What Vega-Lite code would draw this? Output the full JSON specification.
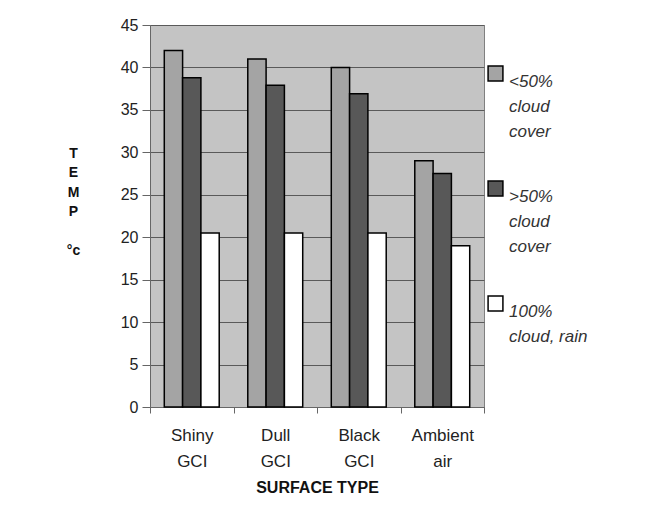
{
  "$schema": "https://vega.github.io/schema/vega-lite/v6.json",
  "width": 334,
  "height": 382,
  "autosize": {"type": "none"},
  "padding": {"left": 150, "top": 25, "right": 171, "bottom": 116},
  "background": "white",
  "config": {
    "view": {"fill": "#c4c4c4", "stroke": "#808080", "strokeWidth": 1},
    "font": "Liberation Sans Narrow, Liberation Sans, Arial, sans-serif"
  },
  "data": {
    "values": [
      {"surface": "Shiny GCI", "cover": "<50% cloud cover", "temp": 42},
      {"surface": "Shiny GCI", "cover": ">50% cloud cover", "temp": 38.8},
      {"surface": "Shiny GCI", "cover": "100% cloud, rain", "temp": 20.5},
      {"surface": "Dull GCI", "cover": "<50% cloud cover", "temp": 41},
      {"surface": "Dull GCI", "cover": ">50% cloud cover", "temp": 37.9},
      {"surface": "Dull GCI", "cover": "100% cloud, rain", "temp": 20.5},
      {"surface": "Black GCI", "cover": "<50% cloud cover", "temp": 40},
      {"surface": "Black GCI", "cover": ">50% cloud cover", "temp": 36.9},
      {"surface": "Black GCI", "cover": "100% cloud, rain", "temp": 20.5},
      {"surface": "Ambient air", "cover": "<50% cloud cover", "temp": 29},
      {"surface": "Ambient air", "cover": ">50% cloud cover", "temp": 27.5},
      {"surface": "Ambient air", "cover": "100% cloud, rain", "temp": 19}
    ]
  },
  "mark": {"type": "bar", "stroke": "black", "strokeWidth": 1.5},
  "encoding": {
    "x": {
      "field": "surface",
      "type": "nominal",
      "sort": ["Shiny GCI", "Dull GCI", "Black GCI", "Ambient air"],
      "scale": {"paddingInner": 0, "paddingOuter": 0},
      "axis": {
        "title": "SURFACE TYPE",
        "titleFontSize": 16,
        "titleFontWeight": "bold",
        "titleColor": "#111",
        "titlePadding": 10,
        "labelAngle": 0,
        "labelFontSize": 17,
        "labelColor": "#222",
        "labelPadding": 14,
        "labelLineHeight": 26,
        "labelExpr": "split(datum.label, ' ')",
        "tickBand": "extent",
        "tickSize": 6,
        "tickColor": "#666",
        "domainColor": "#666",
        "grid": false
      }
    },
    "xOffset": {
      "field": "cover",
      "type": "nominal",
      "sort": ["<50% cloud cover", ">50% cloud cover", "100% cloud, rain"],
      "scale": {"paddingInner": 0, "paddingOuter": 0.78}
    },
    "y": {
      "field": "temp",
      "type": "quantitative",
      "scale": {"domain": [0, 45], "nice": false},
      "axis": {
        "values": [0, 5, 10, 15, 20, 25, 30, 35, 40, 45],
        "title": ["T", "E", "M", "P", "\u2800", "°c"],
        "titleAngle": 0,
        "titleAlign": "center",
        "titleBaseline": "top",
        "titleX": -77,
        "titleY": 121,
        "titleFontSize": 14,
        "titleFontWeight": "bold",
        "titleColor": "#111",
        "titleLineHeight": 19.5,
        "labelFontSize": 16,
        "labelColor": "#222",
        "labelPadding": 4,
        "tickSize": 8,
        "tickColor": "#666",
        "domainColor": "#666",
        "gridColor": "#5a5a5a",
        "gridWidth": 1
      }
    },
    "color": {
      "field": "cover",
      "type": "nominal",
      "sort": ["<50% cloud cover", ">50% cloud cover", "100% cloud, rain"],
      "scale": {
        "domain": ["<50% cloud cover", ">50% cloud cover", "100% cloud, rain"],
        "range": ["#a4a4a4", "#585858", "#ffffff"]
      },
      "legend": {
        "title": null,
        "orient": "none",
        "legendX": 337,
        "legendY": 40,
        "symbolType": "square",
        "symbolSize": 220,
        "symbolStrokeColor": "black",
        "symbolStrokeWidth": 1.5,
        "labelFontSize": 17,
        "labelFontStyle": "italic",
        "labelColor": "#333",
        "labelBaseline": "top",
        "labelOffset": 5,
        "labelLimit": 200,
        "rowPadding": 38,
        "labelExpr": "datum.label == '100% cloud, rain' ? ['100%', 'cloud, rain'] : split(datum.label, ' ')",
        "encode": {"labels": {"update": {"lineHeight": {"value": 25}}}}
      }
    }
  }
}
